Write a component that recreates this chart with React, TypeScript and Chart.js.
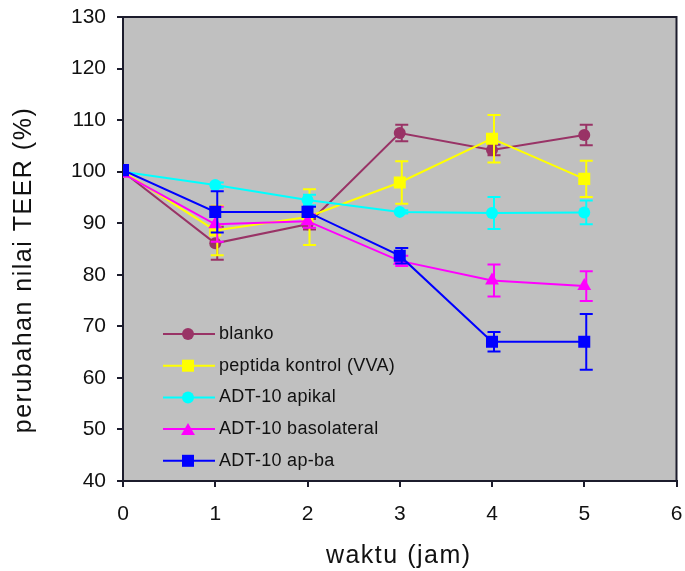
import React, { useEffect, useRef } from 'react';
import { Chart, registerables } from 'chart.js';

Chart.register(...registerables);

// ---- data ----
const hours = [0, 1, 2, 3, 4, 5];
const seriesNames = ['blanko', 'peptida kontrol (VVA)', 'ADT-10 apikal', 'ADT-10 basolateral', 'ADT-10 ap-ba'];
const blanko = [100, 86.1, 89.8, 107.5, 104.2, 107.1];
const blankoErr = [0, 3.2, 1.0, 1.6, 1.0, 2.0];
const peptida = [100, 88.6, 91.2, 97.9, 106.4, 98.6];
const peptidaErr = [0, 4.8, 5.4, 4.1, 4.6, 3.5];
const apikal = [100, 97.4, 94.5, 92.2, 92.0, 92.1];
const apikalErr = [0, 0.5, 1.0, 0.3, 3.1, 2.3];
const basolateral = [99.6, 89.8, 90.4, 82.7, 78.9, 77.8];
const basolateralErr = [0, 3.4, 1.3, 1.0, 3.1, 2.9];
const apba = [100.3, 92.2, 92.2, 83.7, 67.0, 67.0];
const apbaErr = [0, 4.0, 1.0, 1.5, 1.9, 5.4];
const xTickValues = [0, 1, 2, 3, 4, 5, 6];
const yTickValues = [40, 50, 60, 70, 80, 90, 100, 110, 120, 130];
const xTitle = 'waktu (jam)';
const yTitle = 'perubahan nilai TEER (%)';

const valueSets = [blanko, peptida, apikal, basolateral, apba];
const errorSets = [blankoErr, peptidaErr, apikalErr, basolateralErr, apbaErr];
const colors = ['#993366', '#FFFF00', '#00FFFF', '#FF00FF', '#0000FF'];
const markerStyles = ['circle', 'rect', 'circle', 'triangle', 'rect'];
const markerRadius = [6, 8.5, 6, 8, 8.5];

const AXIS_COLOR = '#1c1c2c';
const TEXT_COLOR = '#111111';
const FONT = '"Liberation Sans", Arial, sans-serif';

function drawMarker(ctx: CanvasRenderingContext2D, style: string, x: number, y: number, r: number, color: string) {
  ctx.fillStyle = color;
  ctx.beginPath();
  if (style === 'circle') {
    ctx.arc(x, y, r, 0, Math.PI * 2);
  } else if (style === 'rect') {
    const s = r * Math.SQRT1_2;
    ctx.rect(x - s, y - s, 2 * s, 2 * s);
  } else {
    ctx.moveTo(x, y - r);
    ctx.lineTo(x + r * Math.sin((2 * Math.PI) / 3), y - r * Math.cos((2 * Math.PI) / 3));
    ctx.lineTo(x + r * Math.sin((4 * Math.PI) / 3), y - r * Math.cos((4 * Math.PI) / 3));
    ctx.closePath();
  }
  ctx.fill();
}

const backgroundPlugin = {
  id: 'plotBackground',
  beforeDraw(chart: any) {
    const { ctx, chartArea } = chart;
    ctx.save();
    ctx.fillStyle = '#C0C0C0';
    ctx.fillRect(chartArea.left, chartArea.top, chartArea.right - chartArea.left, chartArea.bottom - chartArea.top);
    ctx.restore();
  },
  beforeDatasetsDraw(chart: any) {
    const { ctx, chartArea } = chart;
    ctx.save();
    ctx.strokeStyle = AXIS_COLOR;
    ctx.lineWidth = 2;
    ctx.strokeRect(chartArea.left, chartArea.top, chartArea.right - chartArea.left, chartArea.bottom - chartArea.top);
    ctx.restore();
  },
};

const errorBarPlugin = {
  id: 'errorBars',
  afterDatasetDraw(chart: any, args: any) {
    const i = args.index;
    const errs = errorSets[i];
    const vals = valueSets[i];
    const meta = args.meta;
    const ctx = chart.ctx;
    const ys = chart.scales.y;
    ctx.save();
    ctx.strokeStyle = colors[i];
    ctx.lineWidth = 2;
    meta.data.forEach((pt: any, j: number) => {
      const e = errs[j];
      if (!e) return;
      const top = ys.getPixelForValue(vals[j] + e);
      const bot = ys.getPixelForValue(vals[j] - e);
      const x = pt.x + 2;
      ctx.beginPath();
      ctx.moveTo(x, top);
      ctx.lineTo(x, bot);
      ctx.moveTo(x - 6.5, top);
      ctx.lineTo(x + 6.5, top);
      ctx.moveTo(x - 6.5, bot);
      ctx.lineTo(x + 6.5, bot);
      ctx.stroke();
    });
    ctx.restore();
  },
};

const annotationPlugin = {
  id: 'titlesAndLegend',
  afterDraw(chart: any) {
    const { ctx, chartArea } = chart;
    ctx.save();
    ctx.fillStyle = TEXT_COLOR;
    // axis titles
    ctx.font = `25px ${FONT}`;
    (ctx as any).letterSpacing = '1.5px';
    ctx.textAlign = 'center';
    ctx.textBaseline = 'middle';
    ctx.fillText(xTitle, (chartArea.left + chartArea.right) / 2 - 1, 556);
    ctx.save();
    ctx.translate(24, (chartArea.top + chartArea.bottom) / 2 + 21);
    ctx.rotate(-Math.PI / 2);
    ctx.fillText(yTitle, 0, 0);
    ctx.restore();

    // legend
    (ctx as any).letterSpacing = '0.3px';
    ctx.font = `18px ${FONT}`;
    ctx.textAlign = 'left';
    const x0 = chartArea.left + 40;
    seriesNames.forEach((name, i) => {
      const y = 334 + i * 31.7;
      ctx.strokeStyle = colors[i];
      ctx.lineWidth = 2;
      ctx.beginPath();
      ctx.moveTo(x0, y);
      ctx.lineTo(x0 + 52, y);
      ctx.stroke();
      drawMarker(ctx, markerStyles[i], x0 + 25, markerStyles[i] === 'triangle' ? y + 2 : y, markerRadius[i], colors[i]);
      ctx.fillStyle = TEXT_COLOR;
      ctx.fillText(name, x0 + 56, y);
    });
    ctx.restore();
  },
};

export default function App() {
  const canvasRef = useRef<HTMLCanvasElement | null>(null);

  useEffect(() => {
    if (!canvasRef.current) return;
    const datasets = valueSets.map((vals, i) => ({
      label: seriesNames[i],
      data: hours.map((h, j) => ({ x: h, y: vals[j] })),
      showLine: true,
      borderColor: colors[i],
      backgroundColor: colors[i],
      borderWidth: 2,
      pointStyle: markerStyles[i],
      pointRadius: markerRadius[i],
      pointBorderWidth: 0,
      pointBackgroundColor: colors[i],
      tension: 0,
      order: 5 - i,
    }));

    const chart = new Chart(canvasRef.current, {
      type: 'scatter',
      data: { datasets },
      options: {
        responsive: false,
        animation: false,
        devicePixelRatio: 1,
        layout: { padding: { left: 0, top: 17, right: 8, bottom: 0 } },
        plugins: { legend: { display: false }, tooltip: { enabled: false } },
        scales: {
          x: {
            type: 'linear',
            min: 0,
            max: 6,
            afterBuildTicks: (scale: any) => {
              scale.ticks = xTickValues.map((v) => ({ value: v }));
            },
            afterFit: (scale: any) => {
              scale.height = 90;
              scale.paddingLeft = 0;
              scale.paddingRight = 0;
            },
            ticks: { color: TEXT_COLOR, font: { family: FONT, size: 21 }, padding: 15 },
            grid: { drawOnChartArea: false, drawTicks: true, tickLength: 6, color: AXIS_COLOR, lineWidth: 2 },
            border: { display: true, color: AXIS_COLOR, width: 2 },
          },
          y: {
            type: 'linear',
            min: 40,
            max: 130,
            afterBuildTicks: (scale: any) => {
              scale.ticks = yTickValues.map((v) => ({ value: v }));
            },
            afterFit: (scale: any) => {
              scale.width = 123;
              scale.paddingTop = 0;
              scale.paddingBottom = 0;
            },
            ticks: { color: TEXT_COLOR, font: { family: FONT, size: 21 }, padding: 11 },
            grid: { drawOnChartArea: false, drawTicks: true, tickLength: 6, color: AXIS_COLOR, lineWidth: 2 },
            border: { display: true, color: AXIS_COLOR, width: 2 },
          },
        },
      },
      plugins: [backgroundPlugin, errorBarPlugin, annotationPlugin],
    } as any);

    return () => chart.destroy();
  }, []);

  return (
    <div style={{ position: 'fixed', left: 0, top: 0, width: 685, height: 571, background: '#ffffff' }}>
      <canvas ref={canvasRef} width={685} height={571} style={{ width: 685, height: 571 }} />
    </div>
  );
}
